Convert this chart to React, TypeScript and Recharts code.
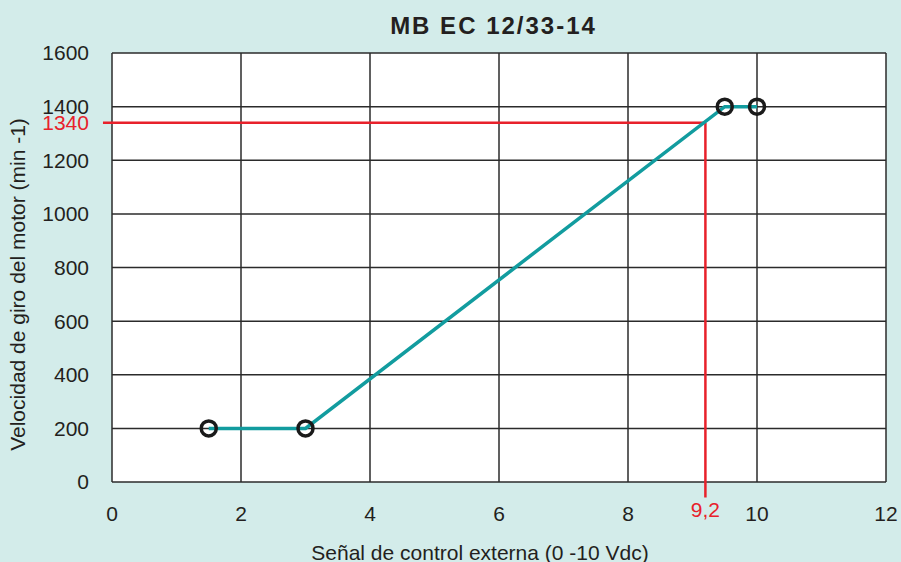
import React from "react";
import {
  LineChart,
  Line,
  XAxis,
  YAxis,
  CartesianGrid,
  ReferenceLine,
  Label,
} from "recharts";

const signalValues = [1.5, 3, 9.5, 10];
const speedValues = [200, 200, 1400, 1400];
const xTicks = [0, 2, 4, 6, 8, 10, 12];
const yTicks = [0, 200, 400, 600, 800, 1000, 1200, 1400, 1600];
const markSignal = 9.2;
const markSpeed = 1340;
const markSignalLabel = "9,2";
const markSpeedLabel = "1340";

const data = signalValues.map((x, i) => ({ x, speed: speedValues[i] }));

// how far the red guide lines run past the plot edges
const guideLeftX = -0.14;
const guideBottomY = -58;

const FONT = "'Liberation Sans', Arial, sans-serif";
const INK = "#231f20";
const RED = "#e8212b";
const TEAL = "#129c9f";
const FS = 21;

if (typeof document !== "undefined") {
  document.body.style.margin = "0";
}

const YTitle = (props: any) => {
  const { x, y, height } = props.viewBox;
  const cx = x + 25;
  const cy = y + height / 2 + 17;
  return (
    <text
      x={cx}
      y={cy}
      transform={`rotate(-90, ${cx}, ${cy})`}
      textAnchor="middle"
      fontSize={FS}
      fontFamily={FONT}
      fill={INK}
    >
      Velocidad de giro del motor (min -1)
    </text>
  );
};

const XTitle = (props: any) => {
  const { x, y, width } = props.viewBox;
  return (
    <text
      x={x + width / 2 - 19}
      y={y + 77.5}
      textAnchor="middle"
      fontSize={FS}
      fontFamily={FONT}
      fill={INK}
    >
      Señal de control externa (0 -10 Vdc)
    </text>
  );
};

export default function App() {
  return (
    <div
      style={{
        position: "relative",
        width: 901,
        height: 562,
        background: "#d3ecea",
        overflow: "hidden",
      }}
    >
      <div
        style={{
          position: "absolute",
          left: 493.5,
          top: 14,
          transform: "translateX(-50%)",
          whiteSpace: "nowrap",
          fontFamily: FONT,
          fontWeight: "bold",
          fontSize: 24,
          lineHeight: "24px",
          letterSpacing: 2,
          color: INK,
        }}
      >
        MB EC 12/33-14
      </div>
      <LineChart
        width={901}
        height={562}
        data={data}
        margin={{ top: 53, right: 15, bottom: 0, left: 0 }}
        style={{ position: "absolute", left: 0, top: 0 }}
      >
        <CartesianGrid stroke="#2b2b2b" strokeWidth={1.5} fill="#ffffff" />
        <XAxis
          dataKey="x"
          type="number"
          domain={[0, 12]}
          ticks={xTicks}
          interval={0}
          height={80}
          axisLine={false}
          tickLine={false}
          tickSize={6}
          tickMargin={18}
          tick={{ fill: INK, fontSize: FS, fontFamily: FONT }}
        >
          <Label content={XTitle} />
        </XAxis>
        <YAxis
          type="number"
          domain={[0, 1600]}
          ticks={yTicks}
          interval={0}
          width={112}
          axisLine={false}
          tickLine={false}
          tickSize={6}
          tickMargin={17}
          tick={{ fill: INK, fontSize: FS, fontFamily: FONT }}
        >
          <Label content={YTitle} />
        </YAxis>
        <ReferenceLine
          segment={[
            { x: guideLeftX, y: markSpeed },
            { x: markSignal, y: markSpeed },
          ]}
          ifOverflow="visible"
          stroke={RED}
          strokeWidth={2.5}
        >
          <Label
            value={markSpeedLabel}
            position="left"
            offset={14}
            fill={RED}
            fontSize={FS}
            fontFamily={FONT}
          />
        </ReferenceLine>
        <ReferenceLine
          segment={[
            { x: markSignal, y: markSpeed },
            { x: markSignal, y: guideBottomY },
          ]}
          ifOverflow="visible"
          stroke={RED}
          strokeWidth={2.5}
        >
          <Label
            value={markSignalLabel}
            position="bottom"
            offset={5}
            fill={RED}
            fontSize={FS}
            fontFamily={FONT}
          />
        </ReferenceLine>
        <Line
          dataKey="speed"
          stroke="none"
          dot={{ r: 7.5, stroke: "#1a1a1a", strokeWidth: 3.5, fill: "none" }}
          activeDot={false}
          isAnimationActive={false}
        />
        <Line
          type="linear"
          dataKey="speed"
          stroke={TEAL}
          strokeWidth={3.5}
          dot={false}
          activeDot={false}
          isAnimationActive={false}
        />
      </LineChart>
    </div>
  );
}
